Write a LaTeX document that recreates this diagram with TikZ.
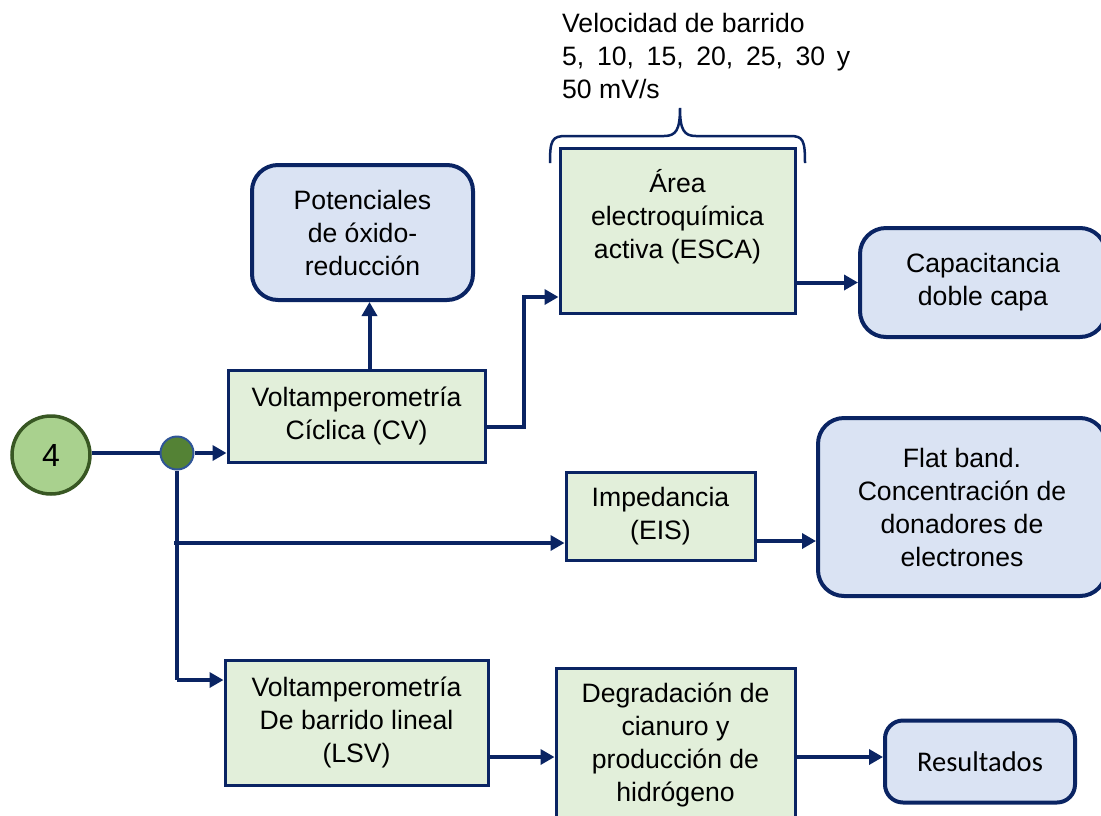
\documentclass[tikz,border=0pt]{standalone}
\usepackage{fontspec}
\setmainfont{Liberation Sans}
\newfontfamily\calfont{Carlito}
\usetikzlibrary{arrows.meta}
\definecolor{navy}{HTML}{0A2463}
\definecolor{gfill}{HTML}{E2EFDA}
\definecolor{bfill}{HTML}{DAE3F3}
\definecolor{ltgreen}{HTML}{A9D18E}
\definecolor{dkgreen}{HTML}{385723}
\definecolor{dotgreen}{HTML}{548235}
\definecolor{dotblue}{HTML}{2F5597}

\begin{document}
\begin{tikzpicture}[x=1pt,y=-1pt,>={Triangle[length=14pt,width=15pt]},
  every node/.style={font=\fontsize{26.6}{33}\selectfont,align=center,inner sep=0pt},
  gbox/.style={draw=navy,line width=3pt,fill=gfill},
  bbox/.style={draw=navy,line width=4pt,fill=bfill,rounded corners=26pt},
  link/.style={draw=navy,line width=4pt}]
\useasboundingbox (0,0) rectangle (1101,815);\clip (0,0) rectangle (1101,815);
% start and branch point
\node[circle,draw=dkgreen,fill=ltgreen,line width=3.5pt,minimum size=78pt,font=\fontsize{32}{33}\selectfont] (c4) at (51,455) {4};
\node[circle,draw=dotblue,fill=dotgreen,line width=2pt,minimum size=33pt] (jn) at (177,453) {};
% boxes
\node[gbox,minimum width=257pt,minimum height=92pt] (cv) at (356.5,416) {Voltamperometría\\Cíclica (CV)};
\node[bbox,minimum width=221pt,minimum height=135pt] (pot) at (362.5,232.5) {Potenciales\\de óxido-\\reducción};
\node[gbox,minimum width=235pt,minimum height=165pt,text depth=33pt] (esca) at (677.5,230.5) {Área\\electroquímica\\activa (ESCA)};
\node[bbox,minimum width=246pt,minimum height=109pt] (cap) at (983,282.5) {Capacitancia\\doble capa};
\node[gbox,minimum width=189pt,minimum height=88pt] (imp) at (660.5,516) {Impedancia\\(EIS)};
\node[bbox,minimum width=288pt,minimum height=178pt] (flat) at (962,507) {Flat band.\\Concentración de\\donadores de\\electrones};
\node[gbox,minimum width=263pt,minimum height=125pt] (lsv) at (356.5,722.5) {Voltamperometría\\De barrido lineal\\(LSV)};
\node[gbox,minimum width=239pt,minimum height=154pt] (degr) at (675.5,745) {Degradación de\\cianuro y\\producción de\\hidrógeno};
\node[bbox,minimum width=190pt,minimum height=82pt,rounded corners=18pt,font=\calfont\fontsize{28.5}{33}\selectfont] (res) at (980,761.5) {Resultados};
% brace and sweep rates
\draw[navy,line width=2.5pt] (550,163) .. controls (550,140) and (552,136) .. (566,136) -- (664,136)
  .. controls (676,136) and (680,130) .. (680,108) .. controls (680,130) and (684,136) .. (696,136)
  -- (790,136) .. controls (803,136) and (805,140) .. (805,163);
\node[anchor=north west,align=left] (vel) at (562,13) {Velocidad de barrido\\\makebox[288pt][s]{5, 10, 15, 20, 25, 30 y}\\50 mV/s};
% connectors
\coordinate (b1) at (177,543);\coordinate (b2) at (177,680);
\draw[link] (jn -| c4.east) -- (jn);\draw[link,->] (jn) -- (jn -| cv.west);
\draw[link] (jn) -- (b2);\draw[link,->] (b2) -- (b2 -| lsv.west);\draw[link,->] (174,543) -- (b1 -| imp.west);
\draw[link,->] ([xshift=13pt]cv.north) -- ([xshift=13pt]cv.north |- pot.south);
\draw[link,->] ([yshift=-11pt]cv.east) -- ++(37,0) |- ([yshift=-66.5pt]esca.west);
\draw[link,->] ([yshift=-52pt]esca.east) -- (cap.west);
\draw[link,->] ([yshift=-25pt]imp.east) -- ([yshift=-25pt]imp.east -| flat.west);
\draw[link,->] ([yshift=-34.5pt]lsv.east) -- ([yshift=-34.5pt]lsv.east -| degr.west);
\draw[link,->] ([yshift=-12pt]degr.east) -- ([yshift=-12pt]degr.east -| res.west);
\end{tikzpicture}
\end{document}
